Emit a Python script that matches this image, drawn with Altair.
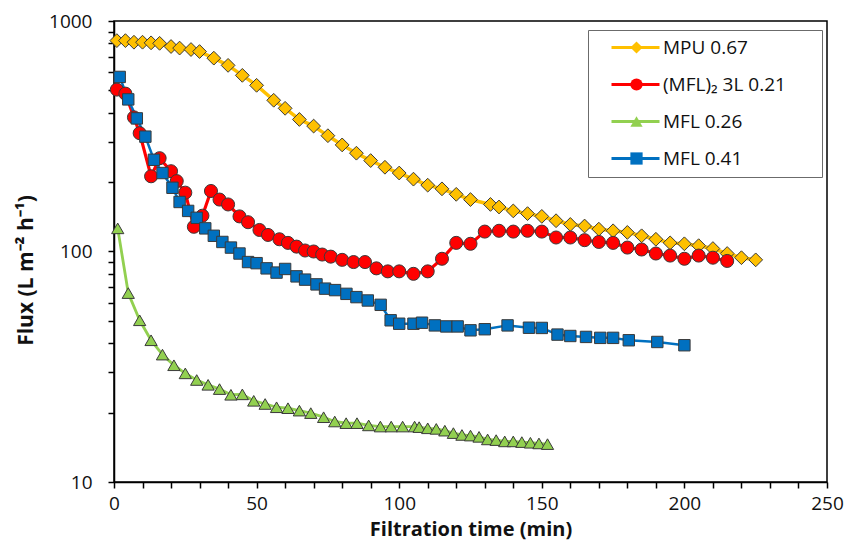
import altair as alt
import pandas as pd

names = ["MPU 0.67", "(MFL)₂ 3L 0.21", "MFL 0.26", "MFL 0.41"]
fill_colors = ["#FFC000", "#FF0000", "#92D050", "#0070C0"]
line_colors = ["#FFC000", "#FF0000", "#92D050", "#0070C0"]
shapes = ["diamond", "circle", "triangle-up", "square"]

mpu_t = [1, 4, 7, 10, 13, 16, 20, 23, 27, 30, 35, 40, 45, 50, 56, 60, 65, 70, 75, 80, 85, 90, 95,
         100, 105, 110, 115, 120, 125, 132, 135, 140, 145, 150, 155, 160, 165, 170, 175, 180, 185,
         190, 195, 200, 205, 210, 215, 220, 225]
mpu_v = [822, 822, 809, 809, 804, 800, 775, 763, 752, 737, 690, 642, 581, 526, 453, 418, 374, 350,
         318, 290, 267, 248, 232, 219, 206, 194, 187, 177, 168, 160, 156, 150, 146, 142, 136, 131,
         129, 125, 123, 121, 117, 113, 109, 108, 106, 103, 98, 94, 92]

red_t = [1, 4, 7, 9, 13, 16, 20, 22, 25, 28, 31, 34, 37, 40, 44, 47, 51, 54, 58, 61, 64, 67, 70,
         73, 76, 80, 84, 88, 92, 96, 100, 105, 110, 115, 120, 125, 130, 135, 140, 145, 150, 155,
         160, 165, 170, 175, 180, 185, 190, 195, 200, 205, 210, 215]
red_v = [504, 484, 382, 326, 212, 254, 223, 202, 180, 128, 143, 183, 168, 160, 142, 134, 124, 118,
         113, 109, 105, 101, 100, 97, 95, 92, 90, 90, 84.5, 82, 82, 80, 82, 93, 109, 108, 122, 123,
         122, 123, 122, 115, 115, 112, 110, 109, 104, 102, 98, 96, 93, 96, 94, 91]

green_t = [1.3, 5, 9, 13, 17, 21, 25, 29, 33, 37, 41, 45, 49, 53, 57, 61, 65, 69, 73.5, 77.4, 81.4,
           85.2, 89.3, 93.4, 97.2, 101.2, 105.4, 107, 110, 113, 116, 119, 122, 125, 128, 131, 134,
           137, 140, 143, 146, 149, 152]
green_v = [126, 66, 50.3, 41.2, 35.7, 32.1, 29.6, 27.7, 26.4, 25.3, 23.9, 24.0, 22.5, 21.8, 21.1,
           20.9, 20.4, 19.9, 19.1, 18.3, 18.0, 18.0, 17.6, 17.4, 17.4, 17.4, 17.4, 17.3, 17.1, 17.0,
           16.7, 16.3, 16.0, 15.9, 15.7, 15.3, 15.2, 15.0, 15.0, 14.9, 14.8, 14.7, 14.6]

blue_t = [2, 5, 8, 11, 14, 17, 20.5, 23, 26, 29, 32, 35, 38, 41, 44, 47, 50, 53.5, 57, 60, 64, 67,
          71, 74, 77.5, 81.5, 85, 89, 93.5, 97, 100, 105, 108, 112.5, 116.5, 120.5, 125, 130, 138,
          145.5, 150, 155.5, 160, 165.5, 170.5, 175, 180.5, 190.5, 200]
blue_v = [572, 457, 378, 315, 250, 219, 189, 164, 150, 140, 126, 117, 110, 104, 98, 90, 89, 84.5,
          81, 84, 78, 75.5, 72, 69, 68, 65.5, 63.4, 61.3, 58.7, 50.3, 48.6, 48.6, 49.1, 47.8, 47.3,
          47.3, 45.5, 46, 47.8, 46.7, 46.6, 43.6, 43.0, 42.6, 42.2, 42.2, 41.2, 40.5, 39.2]

x_tick_values = list(range(0, 251, 10))
y_tick_values = [10, 20, 30, 40, 50, 60, 70, 80, 90, 100, 200, 300, 400, 500, 600, 700, 800, 900, 1000]

rows = []
for name, ts, vs in zip(names, [mpu_t, red_t, green_t, blue_t], [mpu_v, red_v, green_v, blue_v]):
    for t, v in zip(ts, vs):
        rows.append({"t": t, "v": v, "series": name, "series_l": name + " ", "series_s": name + "  "})
df = pd.DataFrame(rows)
line_names = [n + " " for n in names]
size_names = [n + "  " for n in names]

FONT = "Open Sans"

x_enc = alt.X(
    "t:Q",
    scale=alt.Scale(domain=[0, 250], nice=False),
    axis=alt.Axis(
        values=x_tick_values,
        labelExpr="datum.value % 50 === 0 ? datum.label : ''",
        title="Filtration time (min)",
        tickSize=6, labelPadding=6, titlePadding=6,
        labelFontSize=19, titleFontSize=20, titleFontWeight="bold",
        labelFlush=False,
    ),
)
y_enc = alt.Y(
    "v:Q",
    scale=alt.Scale(type="log", domain=[10, 1000], nice=False),
    axis=alt.Axis(
        values=y_tick_values, format="d",
        labelExpr="(datum.value == 10 || datum.value == 100 || datum.value == 1000) ? datum.label : ''",
        title="Flux (L m⁻² h⁻¹)", titleY=249,
        tickSize=6, labelPadding=16, titlePadding=12,
        labelFontSize=19, titleFontSize=21, titleFontWeight="bold",
        labelFlush=False,
    ),
)

LX, LY = 473, 9
line_legend = alt.Legend(
    title=None, orient="none", legendX=LX, legendY=LY,
    symbolType="M-4,0L4,0", symbolSize=144, symbolStrokeWidth=3,
    symbolOffset=31, labelOffset=5, labelExpr="''",
    labelFontSize=19, labelFont=FONT, rowPadding=17, padding=8,
)
marker_legend = alt.Legend(
    title=None, orient="none", legendX=LX + 1, legendY=LY,
    symbolSize=150, symbolStrokeWidth=1, symbolStrokeColor="#3a3a3a",
    symbolOffset=31, labelOffset=17, labelFontSize=19, labelFont=FONT,
    labelExpr="datum.label + '\u2800\u2800'",
    labelColor="#111", rowPadding=17, padding=8,
    strokeColor="#6b6b6b",
)

lines = alt.Chart(df).mark_line(strokeJoin="round").encode(
    x=x_enc, y=y_enc,
    color=alt.Color("series_l:N", sort=line_names, scale=alt.Scale(range=line_colors),
                    legend=line_legend),
    strokeWidth=alt.StrokeWidth("series_s:N", scale=alt.Scale(domain=size_names, range=[3.5, 2.5, 3.5, 3.5]),
                                legend=None),
    order="t:Q",
)

points = alt.Chart(df).mark_point(filled=True, opacity=1, stroke="#3a3a3a", strokeWidth=1).encode(
    x=x_enc, y=y_enc,
    fill=alt.Fill("series:N", scale=alt.Scale(domain=names, range=fill_colors), legend=marker_legend),
    shape=alt.Shape("series:N", scale=alt.Scale(domain=names, range=shapes), legend=marker_legend),
    size=alt.Size("series_s:N", scale=alt.Scale(domain=size_names, range=[190, 130, 160, 120]),
                  legend=None),
)

chart = alt.layer(lines, points).properties(
    width=713, height=461,
    autosize=alt.AutoSizeParams(type="none"),
    padding={"left": 106, "top": 13, "right": 17, "bottom": 60},
).configure_view(
    stroke="black", strokeWidth=1.5
).configure_axis(
    grid=False, domainColor="black", domainWidth=1.5, tickColor="black", tickWidth=1.5,
    labelFont=FONT, titleFont=FONT, labelColor="#111", titleColor="#111",
).configure_legend(
    labelFont=FONT
)

chart.save("out.html", embed_options={"renderer": "svg", "actions": False})
